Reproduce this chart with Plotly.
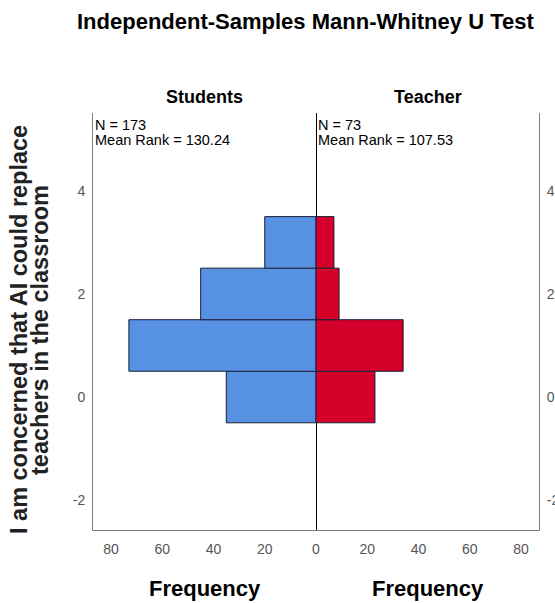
import plotly.graph_objects as go

# Data
bins = [0, 1, 2, 3]
students_freq = [35, 73, 45, 20]
teacher_freq = [23, 34, 9, 7]
x_tick_vals = [-80, -60, -40, -20, 0, 20, 40, 60, 80]
x_tick_text = ["80", "60", "40", "20", "0", "20", "40", "60", "80"]
y_tick_vals = [-2, 0, 2, 4]
y_tick_text = ["-2", "0", "2", "4"]
groups = ["Students", "Teacher"]
n_text = ["N = 173", "N = 73"]
rank_text = ["Mean Rank = 130.24", "Mean Rank = 107.53"]
y_title_lines = ["I am concerned that AI could replace", "teachers in the classroom"]

FONT = "Liberation Sans, Arial, sans-serif"
BLUE = "#5792E2"
RED = "#D4002A"
EDGE = "#1a1f3a"
GREY = "#808080"

xr = [-87, 87]
yr = [-2.58, 5.51]

fig = go.Figure()
fig.add_trace(go.Bar(
    y=bins, x=[-v for v in students_freq], orientation="h", width=1,
    marker=dict(color=BLUE, line=dict(color=EDGE, width=1)),
    xaxis="x", yaxis="y", showlegend=False, hoverinfo="skip"))
fig.add_trace(go.Bar(
    y=bins, x=teacher_freq, orientation="h", width=1,
    marker=dict(color=RED, line=dict(color=EDGE, width=1)),
    xaxis="x", yaxis="y2", showlegend=False, hoverinfo="skip"))

axis_font = dict(family=FONT, size=14, color="#555555")
fig.update_layout(
    width=555, height=603,
    margin=dict(l=93, r=16, t=113, b=73, autoexpand=False),
    paper_bgcolor="white", plot_bgcolor="white",
    barmode="overlay",
    xaxis=dict(range=xr, tickvals=x_tick_vals, ticktext=x_tick_text,
               showgrid=False, zeroline=True, zerolinecolor="black", zerolinewidth=1,
               showline=True, linecolor=GREY, linewidth=1, ticks="", automargin=False,
               tickfont=axis_font, ticklabelstandoff=6),
    yaxis=dict(range=yr, tickvals=y_tick_vals, ticktext=y_tick_text,
               showgrid=False, zeroline=False,
               showline=True, linecolor=GREY, linewidth=1, ticks="", automargin=False,
               tickfont=axis_font, ticklabelstandoff=4),
    yaxis2=dict(range=yr, tickvals=y_tick_vals, ticktext=y_tick_text,
                showgrid=False, zeroline=False,
                overlaying="y", side="right", automargin=False,
                showline=True, linecolor=GREY, linewidth=1, ticks="",
                tickfont=axis_font, ticklabelstandoff=4),
)

W, H = 555, 603
pl, pr, pt, pb = 93, 539, 113, 530


def px(xp):
    return (xp - pl) / (pr - pl)


def py(yp):
    return (pb - yp) / (pb - pt)


ann = []
ann.append(dict(text="<b>Independent-Samples Mann-Whitney U Test</b>", x=px(305), y=py(21),
                xref="paper", yref="paper", showarrow=False, xanchor="center", yanchor="middle",
                font=dict(family=FONT, size=22, color="black")))
for i, g in enumerate(groups):
    cx = -43.5 if i == 0 else 43.5
    ann.append(dict(text="<b>%s</b>" % g, x=cx, y=py(97), xref="x", yref="paper",
                    showarrow=False, xanchor="center", yanchor="middle",
                    font=dict(family=FONT, size=18, color="black")))
    ann.append(dict(text="<b>Frequency</b>", x=cx, y=py(588), xref="x", yref="paper",
                    showarrow=False, xanchor="center", yanchor="middle",
                    font=dict(family=FONT, size=22, color="black")))
    lx = xr[0] if i == 0 else 0
    ann.append(dict(text=n_text[i], x=lx, y=py(125), xref="x", yref="paper",
                    showarrow=False, xanchor="left", yanchor="middle", xshift=0,
                    font=dict(family=FONT, size=14.5, color="black")))
    ann.append(dict(text=rank_text[i], x=lx, y=py(140), xref="x", yref="paper",
                    showarrow=False, xanchor="left", yanchor="middle", xshift=0,
                    font=dict(family=FONT, size=14.5, color="black")))
for line, xc in zip(y_title_lines, [19, 40]):
    ann.append(dict(text="<b>%s</b>" % line,
                    x=px(xc), y=py(330), xref="paper", yref="paper", showarrow=False,
                    textangle=-90, xanchor="center", yanchor="middle",
                    font=dict(family=FONT, size=23.5, color="#222222")))
fig.update_layout(annotations=ann)

fig.write_html("out.html", config={"displayModeBar": False},
               post_script="document.body.style.margin='0px';document.body.style.padding='0px';")
